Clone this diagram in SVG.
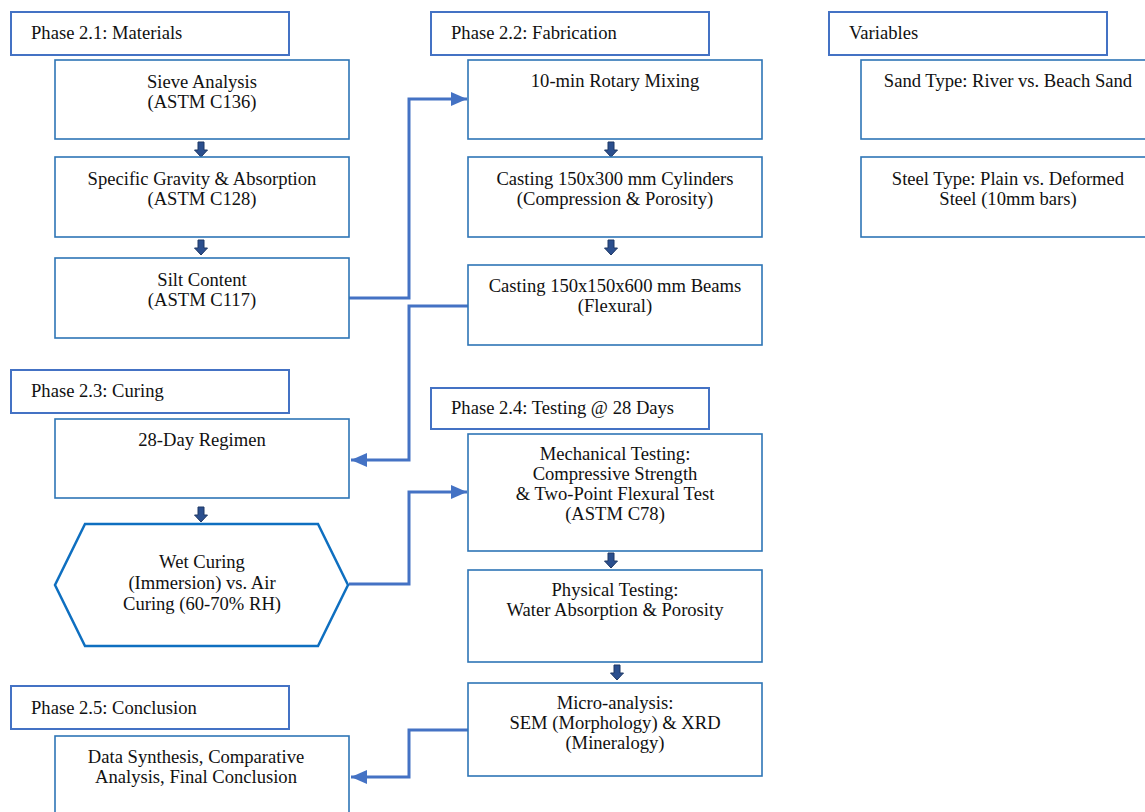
<svg xmlns="http://www.w3.org/2000/svg" width="1145" height="812" viewBox="0 0 1145 812">
<defs>
<style>
text{font-family:"Liberation Serif","Times New Roman",serif;font-size:18.6px;fill:#111}
.c{text-anchor:middle}
.hd{fill:#fff;stroke:#4472C4;stroke-width:2}
.bx{fill:#fff;stroke:#2E75B6;stroke-width:1.6}
.hx{fill:#fff;stroke:#0E6FC0;stroke-width:2.5}
.cn{fill:none;stroke:#4472C4;stroke-width:3}
.ba{fill:#2B4F8E;stroke:#1F3864;stroke-width:1}
</style>
<marker id="ah2" viewBox="0 0 10 10" refX="10" refY="5" markerWidth="16" markerHeight="14" markerUnits="userSpaceOnUse" orient="auto" preserveAspectRatio="none">
<path d="M0,0 L10,5 L0,10 Z" fill="#4472C4"/>
</marker>
<path id="dn" d="M-3,0 H3 V8 H6.5 L0,15 L-6.5,8 H-3 Z"/>
</defs>
<rect width="1145" height="812" fill="#fff"/>

<g id="connectors">
<path class="cn" d="M349,298 H409 V99 H467" marker-end="url(#ah2)"/>
<path class="cn" d="M468,306 H409 V460 H351" marker-end="url(#ah2)"/>
<path class="cn" d="M349,584 H409 V492 H467" marker-end="url(#ah2)"/>
<path class="cn" d="M468,730 H409 V777 H351" marker-end="url(#ah2)"/>
<use href="#dn" class="ba" x="201" y="142"/>
<use href="#dn" class="ba" x="201" y="240"/>
<use href="#dn" class="ba" x="201" y="507"/>
<use href="#dn" class="ba" x="611" y="142"/>
<use href="#dn" class="ba" x="611" y="240"/>
<use href="#dn" class="ba" x="611" y="553"/>
<use href="#dn" class="ba" x="617" y="665"/>
</g>

<g id="h21"><rect class="hd" x="11" y="12" width="278" height="43"/><text x="31" y="39">Phase 2.1: Materials</text></g>
<g id="sieve"><rect class="bx" x="55" y="60" width="294" height="79"/><text class="c" x="202" y="88">Sieve Analysis</text><text class="c" x="202" y="108">(ASTM C136)</text></g>
<g id="gravity"><rect class="bx" x="55" y="157" width="294" height="80"/><text class="c" x="202" y="185">Specific Gravity &amp; Absorption</text><text class="c" x="202" y="205">(ASTM C128)</text></g>
<g id="silt"><rect class="bx" x="55" y="258" width="294" height="80"/><text class="c" x="202" y="286">Silt Content</text><text class="c" x="202" y="306">(ASTM C117)</text></g>

<g id="h22"><rect class="hd" x="431" y="12" width="278" height="43"/><text x="451" y="39">Phase 2.2: Fabrication</text></g>
<g id="mixing"><rect class="bx" x="468" y="60" width="294" height="79"/><text class="c" x="615" y="87">10-min Rotary Mixing</text></g>
<g id="cylinders"><rect class="bx" x="468" y="157" width="294" height="80"/><text class="c" x="615" y="185">Casting 150x300 mm Cylinders</text><text class="c" x="615" y="205">(Compression &amp; Porosity)</text></g>
<g id="beams"><rect class="bx" x="468" y="265" width="294" height="80"/><text class="c" x="615" y="292">Casting 150x150x600 mm Beams</text><text class="c" x="615" y="312">(Flexural)</text></g>

<g id="hvar"><rect class="hd" x="829" y="12" width="278" height="43"/><text x="849" y="39">Variables</text></g>
<g id="sand"><rect class="bx" x="861" y="60" width="300" height="79"/><text class="c" x="1008" y="87">Sand Type: River vs. Beach Sand</text></g>
<g id="steel"><rect class="bx" x="861" y="157" width="300" height="80"/><text class="c" x="1008" y="185">Steel Type: Plain vs. Deformed</text><text class="c" x="1008" y="205">Steel (10mm bars)</text></g>

<g id="h23"><rect class="hd" x="11" y="370" width="278" height="43"/><text x="31" y="397">Phase 2.3: Curing</text></g>
<g id="regimen"><rect class="bx" x="55" y="419" width="294" height="79"/><text class="c" x="202" y="446">28-Day Regimen</text></g>
<g id="curing"><polygon class="hx" points="85,524 318,524 348,585 318,646 85,646 55,585"/><text class="c" x="202" y="568">Wet Curing</text><text class="c" x="202" y="589">(Immersion) vs. Air</text><text class="c" x="202" y="610">Curing (60-70% RH)</text></g>

<g id="h24"><rect class="hd" x="431" y="388" width="278" height="41"/><text x="451" y="414">Phase 2.4: Testing @ 28 Days</text></g>
<g id="mech"><rect class="bx" x="468" y="434" width="294" height="117"/><text class="c" x="615" y="460">Mechanical Testing:</text><text class="c" x="615" y="480">Compressive Strength</text><text class="c" x="615" y="500">&amp; Two-Point Flexural Test</text><text class="c" x="615" y="520">(ASTM C78)</text></g>
<g id="phys"><rect class="bx" x="468" y="570" width="294" height="92"/><text class="c" x="615" y="596">Physical Testing:</text><text class="c" x="615" y="616">Water Absorption &amp; Porosity</text></g>
<g id="micro"><rect class="bx" x="468" y="683" width="294" height="93"/><text class="c" x="615" y="709">Micro-analysis:</text><text class="c" x="615" y="729">SEM (Morphology) &amp; XRD</text><text class="c" x="615" y="749">(Mineralogy)</text></g>

<g id="h25"><rect class="hd" x="11" y="686" width="278" height="43"/><text x="31" y="714">Phase 2.5: Conclusion</text></g>
<g id="synth"><rect class="bx" x="55" y="736" width="294" height="80"/><text class="c" x="196" y="763">Data Synthesis, Comparative</text><text class="c" x="196" y="783">Analysis, Final Conclusion</text></g>
</svg>
